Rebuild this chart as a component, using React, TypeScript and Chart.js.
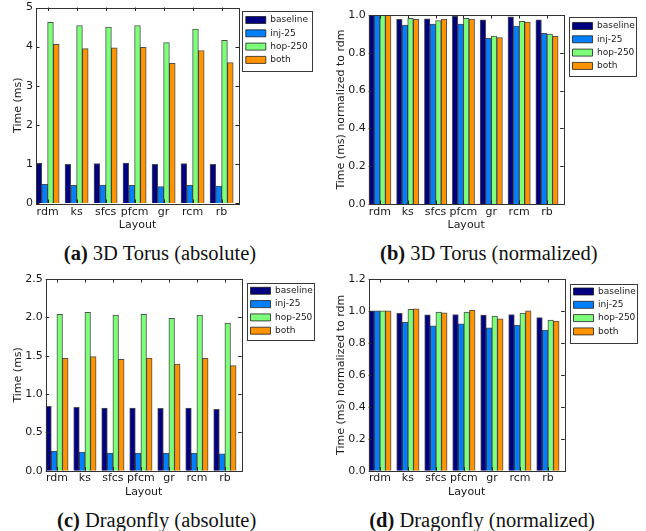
import React, { useEffect, useRef } from 'react';
import { Chart, registerables } from 'chart.js';

Chart.register(...registerables);

// ---------- data ----------
const categories = ['rdm', 'ks', 'sfcs', 'pfcm', 'gr', 'rcm', 'rb'];
const seriesNames = ['baseline', 'inj-25', 'hop-250', 'both'];
const seriesColors = ['#000080', '#0080ff', '#7dff7a', '#ff9400'];
// empty slot that keeps the matplotlib-style gap after each group
const spacer = [null, null, null, null, null, null, null];

// (a) 3D Torus (absolute)
const torusAbsBaseline = [1.02, 0.99, 1.01, 1.02, 0.99, 1.01, 0.99];
const torusAbsInj25 = [0.48, 0.45, 0.46, 0.45, 0.42, 0.45, 0.43];
const torusAbsHop250 = [4.62, 4.54, 4.5, 4.54, 4.1, 4.45, 4.16];
const torusAbsBoth = [4.06, 3.95, 3.97, 3.98, 3.57, 3.9, 3.59];

// (b) 3D Torus (normalized)
const torusNormBaseline = [1.0, 0.977, 0.98, 0.994, 0.974, 0.99, 0.974];
const torusNormInj25 = [1.0, 0.947, 0.952, 0.952, 0.877, 0.942, 0.903];
const torusNormHop250 = [1.0, 0.982, 0.97, 0.982, 0.889, 0.966, 0.899];
const torusNormBoth = [1.0, 0.977, 0.979, 0.979, 0.88, 0.963, 0.887];

// (c) Dragonfly (absolute)
const dfAbsBaseline = [0.84, 0.826, 0.817, 0.817, 0.813, 0.817, 0.8];
const dfAbsInj25 = [0.256, 0.243, 0.23, 0.23, 0.23, 0.23, 0.22];
const dfAbsHop250 = [2.04, 2.065, 2.03, 2.04, 1.987, 2.03, 1.926];
const dfAbsBoth = [1.465, 1.487, 1.452, 1.47, 1.39, 1.465, 1.37];

// (d) Dragonfly (normalized)
const dfNormBaseline = [1.0, 0.985, 0.976, 0.978, 0.974, 0.978, 0.958];
const dfNormInj25 = [1.0, 0.928, 0.907, 0.92, 0.895, 0.911, 0.88];
const dfNormHop250 = [1.0, 1.01, 0.993, 0.993, 0.968, 0.987, 0.943];
const dfNormBoth = [1.0, 1.014, 0.989, 1.004, 0.951, 1.0, 0.937];

const absTicks = { max: 5, step: 1, decimals: 0 };
const normTicks = { max: 1.0, step: 0.2, decimals: 1 };
const dfAbsTicks = { max: 2.5, step: 0.5, decimals: 1 };
const dfNormTicks = { max: 1.2, step: 0.2, decimals: 1 };

const xTitle = 'Layout';
const yTitleAbs = 'Time (ms)';
const yTitleNorm = 'Time (ms) normalized to rdm';

// ---------- layout ----------
type Panel = {
  left: number; top: number; w: number; h: number;
  series: number[][];
  ticks: { max: number; step: number; decimals: number };
  yTitle: string;
  capLabel: string; capText: string; capX: number; capY: number;
  plotLeft: number; plotRight: number; plotTop: number; plotBottom: number;
  xTickPad: number; xTitleY: number; yTitleX: number;
  legGapX: number; legGapY: number; legW: number; legH: number; legItemDy: number;
};

const LEG_CAP = 70;
const LEG_PAD = 4.3;
const LEG_INSET = 3.8;
const FONT = 'DejaVu Sans';
const TXT = '#1a1a1a';

const panels: Panel[] = [
  {
    left: 0, top: 0, w: 323, h: 235,
    series: [torusAbsBaseline, torusAbsInj25, torusAbsHop250, torusAbsBoth],
    ticks: absTicks, yTitle: yTitleAbs,
    capLabel: '(a)', capText: ' 3D Torus (absolute)', capX: 160, capY: 253,
    plotLeft: 36, plotRight: 239, plotTop: 7.5, plotBottom: 203,
    xTickPad: 2.5, xTitleY: 225, yTitleX: 18.3,
    legGapX: 3, legGapY: 3.5, legW: 70, legH: 60, legItemDy: 9,
  },
  {
    left: 323, top: 0, w: 323, h: 235,
    series: [torusNormBaseline, torusNormInj25, torusNormHop250, torusNormBoth],
    ticks: normTicks, yTitle: yTitleNorm,
    capLabel: '(b)', capText: ' 3D Torus (normalized)', capX: 165.8, capY: 253,
    plotLeft: 45.7, plotRight: 240.7, plotTop: 15, plotBottom: 204,
    xTickPad: 1.1, xTitleY: 225, yTitleX: 18.3,
    legGapX: 5, legGapY: 2.3, legW: 66.7, legH: 58.7, legItemDy: 8.7,
  },
  {
    left: 0, top: 265, w: 323, h: 235,
    series: [dfAbsBaseline, dfAbsInj25, dfAbsHop250, dfAbsBoth],
    ticks: dfAbsTicks, yTitle: yTitleAbs,
    capLabel: '(c)', capText: ' Dragonfly (absolute)', capX: 156.7, capY: 255,
    plotLeft: 45.7, plotRight: 241.7, plotTop: 14, plotBottom: 205.7,
    xTickPad: 1, xTitleY: 226.7, yTitleX: 18.3,
    legGapX: 5, legGapY: 4.3, legW: 66.7, legH: 56.7, legItemDy: 7.5,
  },
  {
    left: 323, top: 265, w: 323, h: 235,
    series: [dfNormBaseline, dfNormInj25, dfNormHop250, dfNormBoth],
    ticks: dfNormTicks, yTitle: yTitleNorm,
    capLabel: '(d)', capText: ' Dragonfly (normalized)', capX: 159, capY: 255,
    plotLeft: 45.7, plotRight: 241.7, plotTop: 14, plotBottom: 205.7,
    xTickPad: 1, xTitleY: 226.7, yTitleX: 18.3,
    legGapX: 5, legGapY: 5, legW: 66.7, legH: 59.3, legItemDy: 7.5,
  },
];

function PanelChart({ p }: { p: Panel }) {
  const ref = useRef<HTMLCanvasElement | null>(null);

  useEffect(() => {
    if (!ref.current) return;
    const slot = (p.plotRight - p.plotLeft) / categories.length;
    const lineH = 11 * 1.2;

    const legendMove = {
      id: 'legendMove',
      afterLayout(chart: any) {
        const L = chart.legend;
        const a = chart.chartArea;
        if (!L) return;
        const w = L.width;
        const h = L.height;
        const left = a.right + p.legGapX + LEG_INSET - LEG_PAD;
        const top = a.top + p.legGapY + p.legItemDy - 4.5 - LEG_PAD;
        L.left = left; L.right = left + w;
        L.top = top; L.bottom = top + h;
      },
    };

    const decor = {
      id: 'mplDecor',
      afterDraw(chart: any) {
        const ctx = chart.ctx;
        const a = chart.chartArea;
        ctx.save();
        ctx.lineWidth = 1;
        // inward ticks
        ctx.strokeStyle = '#222222';
        const tl = 3.5;
        const ys = chart.scales.y;
        ys.ticks.forEach((_t: any, i: number) => {
          const py = Math.round(ys.getPixelForTick(i)) + 0.5;
          ctx.beginPath();
          ctx.moveTo(a.left, py); ctx.lineTo(a.left + tl, py);
          ctx.moveTo(a.right - tl, py); ctx.lineTo(a.right, py);
          ctx.stroke();
        });
        const xs = chart.scales.x;
        xs.ticks.forEach((_t: any, i: number) => {
          const px = Math.round(xs.getPixelForTick(i) - 0.1 * slot) + 0.5;
          ctx.beginPath();
          ctx.moveTo(px, a.top); ctx.lineTo(px, a.top + tl);
          ctx.moveTo(px, a.bottom - tl); ctx.lineTo(px, a.bottom);
          ctx.stroke();
        });
        // plot frame
        ctx.strokeStyle = '#333333';
        ctx.strokeRect(Math.round(a.left) + 0.5, Math.round(a.top) + 0.5,
          Math.round(a.right - a.left), Math.round(a.bottom - a.top));
        ctx.restore();
      },
    };

    const datasets: any[] = seriesNames.map((name, i) => ({
      label: name,
      data: p.series[i],
      backgroundColor: seriesColors[i],
      borderColor: 'rgba(20,20,20,0.75)',
      borderWidth: 1,
      categoryPercentage: 1.0,
      barPercentage: 1.0,
    }));
    datasets.push({
      label: '',
      data: spacer,
      backgroundColor: 'rgba(0,0,0,0)',
      borderWidth: 0,
      categoryPercentage: 1.0,
      barPercentage: 1.0,
    });

    const chart = new Chart(ref.current, {
      type: 'bar',
      data: { labels: categories, datasets },
      options: {
        animation: false,
        responsive: false,
        layout: {
          padding: { left: 0, top: p.plotTop, right: p.w - p.plotRight - LEG_CAP, bottom: 0 },
        },
        scales: {
          x: {
            type: 'category',
            grid: { display: false, drawTicks: false },
            border: { display: false },
            ticks: {
              font: { family: FONT, size: 11 },
              color: TXT,
              padding: p.xTickPad,
              labelOffset: -0.1 * slot,
              maxRotation: 0,
              autoSkip: false,
            },
            title: {
              display: true,
              text: xTitle,
              font: { family: FONT, size: 11 },
              color: TXT,
              padding: { top: 0, bottom: p.h - p.xTitleY - lineH / 2 },
            },
            afterFit: (s: any) => {
              s.height = p.h - p.plotBottom;
              s.paddingLeft = 0; s.paddingRight = 0;
            },
          },
          y: {
            min: 0,
            max: p.ticks.max,
            grid: { display: false, drawTicks: false },
            border: { display: false },
            ticks: {
              stepSize: p.ticks.step,
              font: { family: FONT, size: 11 },
              color: TXT,
              padding: 3,
              callback: (v: any) => Number(v).toFixed(p.ticks.decimals),
            },
            title: {
              display: true,
              text: p.yTitle,
              font: { family: FONT, size: 11 },
              color: TXT,
              padding: { top: p.yTitleX - lineH / 2, bottom: 0 },
            },
            afterFit: (s: any) => {
              s.width = p.plotLeft;
              s.paddingTop = 0; s.paddingBottom = 0;
            },
          },
        },
        plugins: {
          legend: {
            position: 'right',
            align: 'start',
            maxWidth: LEG_CAP,
            labels: {
              font: { family: FONT, size: 9 },
              color: TXT,
              boxWidth: 20,
              boxHeight: 7,
              padding: LEG_PAD,
              filter: (item: any) => item.text !== '',
            },
          },
          tooltip: { enabled: false },
        },
      } as any,
      plugins: [legendMove, decor],
    });
    return () => chart.destroy();
  }, [p]);

  const frameLeft = p.left + Math.round(p.plotRight + p.legGapX);
  const frameTop = p.top + Math.round(p.plotTop + p.legGapY);

  return (
    <>
      <canvas
        ref={ref}
        width={p.w}
        height={p.h}
        style={{ position: 'absolute', left: p.left, top: p.top, width: p.w, height: p.h }}
      />
      <div
        style={{
          position: 'absolute',
          left: frameLeft,
          top: frameTop,
          width: Math.round(p.legW) + 1,
          height: Math.round(p.legH) + 1,
          boxSizing: 'border-box',
          border: '1px solid #3a3a3a',
          pointerEvents: 'none',
        }}
      />
      <div
        style={{
          position: 'absolute',
          left: p.left + p.capX,
          top: p.top + p.capY,
          transform: 'translate(-50%, -50%)',
          whiteSpace: 'nowrap',
          fontFamily: "'Liberation Serif', 'Times New Roman', serif",
          fontSize: 20.5,
          lineHeight: 1,
          color: '#111',
        }}
      >
        <b>{p.capLabel}</b>
        {p.capText}
      </div>
    </>
  );
}

export default function App() {
  return (
    <div style={{ position: 'absolute', left: 0, top: 0, width: 646, height: 531, background: '#fff', overflow: 'hidden' }}>
      {panels.map((p, i) => (
        <PanelChart key={i} p={p} />
      ))}
    </div>
  );
}
